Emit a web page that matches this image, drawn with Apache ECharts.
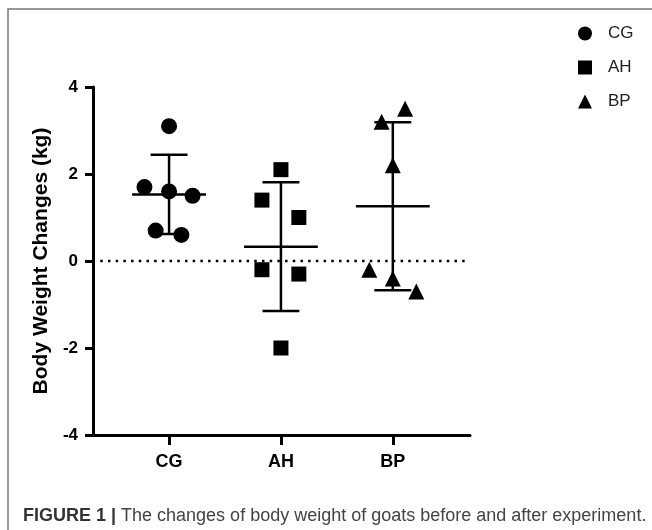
<!DOCTYPE html>
<html>
<head>
<meta charset="utf-8">
<script src="https://cdn.jsdelivr.net/npm/echarts@6/dist/echarts.min.js"></script>
<style>
html,body{margin:0;padding:0;background:#fff;}
#c{width:652px;height:530px;}
</style>
</head>
<body>
<div id="c"></div>
<script>
// ---- data ----
const categories = ['CG', 'AH', 'BP'];
const categoryPos = [1, 2, 3];
const yTicks = [-4, -2, 0, 2, 4];

const cgX = [1.00, 0.78, 1.00, 1.21, 0.88, 1.11];
const cgY = [3.1, 1.7, 1.6, 1.5, 0.7, 0.6];
const ahX = [2.00, 1.83, 2.16, 1.83, 2.16, 2.00];
const ahY = [2.1, 1.4, 1.0, -0.2, -0.3, -2.0];
const bpX = [2.90, 3.11, 3.00, 2.79, 3.00, 3.21];
const bpY = [3.2, 3.5, 2.2, -0.2, -0.4, -0.7];

const means = [1.53, 0.33, 1.26];
const sds = [0.91, 1.48, 1.93];

const zeroLine = [[0.385, 0], [3.66, 0]];
// --------------------------------------

const chart = echarts.init(document.getElementById('c'), null, {renderer: 'canvas'});

function pts(xs, ys) { return xs.map((x, i) => [x, ys[i]]); }

const errData = categoryPos.map((c, i) => [c, means[i], sds[i]]);

const option = {
  backgroundColor: '#fff',
  animation: false,
  title: {
    left: 23,
    top: 507,
    padding: 0,
    text: '{b|FIGURE 1 |} {n|The changes of body weight of goats before and after experiment.}',
    textStyle: {
      rich: {
        b: {fontFamily: 'Liberation Sans', fontWeight: 'bold', fontSize: 18, color: '#333'},
        n: {fontFamily: 'Liberation Sans', fontWeight: 'normal', fontSize: 18, color: '#444'}
      }
    }
  },
  graphic: [{
    type: 'rect',
    shape: {x: 8, y: 9, width: 700, height: 600},
    style: {fill: 'none', stroke: '#777', lineWidth: 1.5},
    silent: true
  }],
  legend: {
    orient: 'vertical',
    left: 573,
    top: 20,
    itemWidth: 14,
    itemHeight: 14,
    itemGap: 17,
    textStyle: {fontFamily: 'Liberation Sans', fontSize: 17, color: '#222', padding: [0, 0, 0, 11]},
    data: [
      {name: 'CG', icon: 'circle'},
      {name: 'AH', icon: 'rect'},
      {name: 'BP', icon: 'triangle'}
    ]
  },
  grid: {left: 93, right: 182, top: 87, bottom: 95, containLabel: false},
  xAxis: {
    type: 'value',
    min: 0.32,
    max: 3.69,
    splitLine: {show: false},
    axisLine: {show: true, onZero: false, lineStyle: {color: '#000', width: 3}},
    axisTick: {show: true, customValues: categoryPos, length: 10, lineStyle: {color: '#000', width: 3}},
    axisLabel: {
      show: true,
      customValues: categoryPos,
      formatter: v => categories[categoryPos.indexOf(Math.round(v))] || '',
      margin: 18,
      fontFamily: 'Liberation Sans', fontWeight: 'bold', fontSize: 18, color: '#000'
    }
  },
  yAxis: {
    type: 'value',
    min: -4,
    max: 4,
    interval: 2,
    name: 'Body Weight Changes (kg)',
    nameLocation: 'middle',
    nameGap: 36,
    nameTextStyle: {fontFamily: 'Liberation Sans', fontWeight: 'bold', fontSize: 21, color: '#000'},
    splitLine: {show: false},
    axisLine: {show: true, lineStyle: {color: '#000', width: 3}},
    axisTick: {show: true, length: 8, lineStyle: {color: '#000', width: 3}},
    axisLabel: {
      margin: 15,
      fontFamily: 'Liberation Sans', fontWeight: 'bold', fontSize: 17, color: '#000',
      customValues: yTicks
    }
  },
  series: [
    {
      name: 'zero', type: 'line', data: zeroLine, symbol: 'none', silent: true,
      lineStyle: {color: '#000', width: 2.5, type: [2.5, 5.2], cap: 'butt'}, z: 1
    },
    {
      name: 'err', type: 'custom', data: errData, silent: true, z: 3,
      renderItem: function (params, api) {
        const c = api.value(0), m = api.value(1), s = api.value(2);
        const halfMean = 0.33, halfCap = 0.165;
        const p = (x, y) => api.coord([x, y]);
        const st = {stroke: '#000', lineWidth: 2.5};
        const l = (a, b) => ({type: 'line', shape: {x1: a[0], y1: a[1], x2: b[0], y2: b[1]}, style: st});
        return {
          type: 'group',
          children: [
            l(p(c - halfMean, m), p(c + halfMean, m)),
            l(p(c, m - s), p(c, m + s)),
            l(p(c - halfCap, m + s), p(c + halfCap, m + s)),
            l(p(c - halfCap, m - s), p(c + halfCap, m - s))
          ]
        };
      }
    },
    {name: 'CG', type: 'scatter', symbol: 'circle', symbolSize: 16, data: pts(cgX, cgY), itemStyle: {color: '#000', opacity: 1}, z: 4},
    {name: 'AH', type: 'scatter', symbol: 'rect', symbolSize: 15, data: pts(ahX, ahY), itemStyle: {color: '#000', opacity: 1}, z: 4},
    {name: 'BP', type: 'scatter', symbol: 'triangle', symbolSize: 16, data: pts(bpX, bpY), itemStyle: {color: '#000', opacity: 1}, z: 4}
  ]
};
chart.setOption(option);
</script>
</body>
</html>
